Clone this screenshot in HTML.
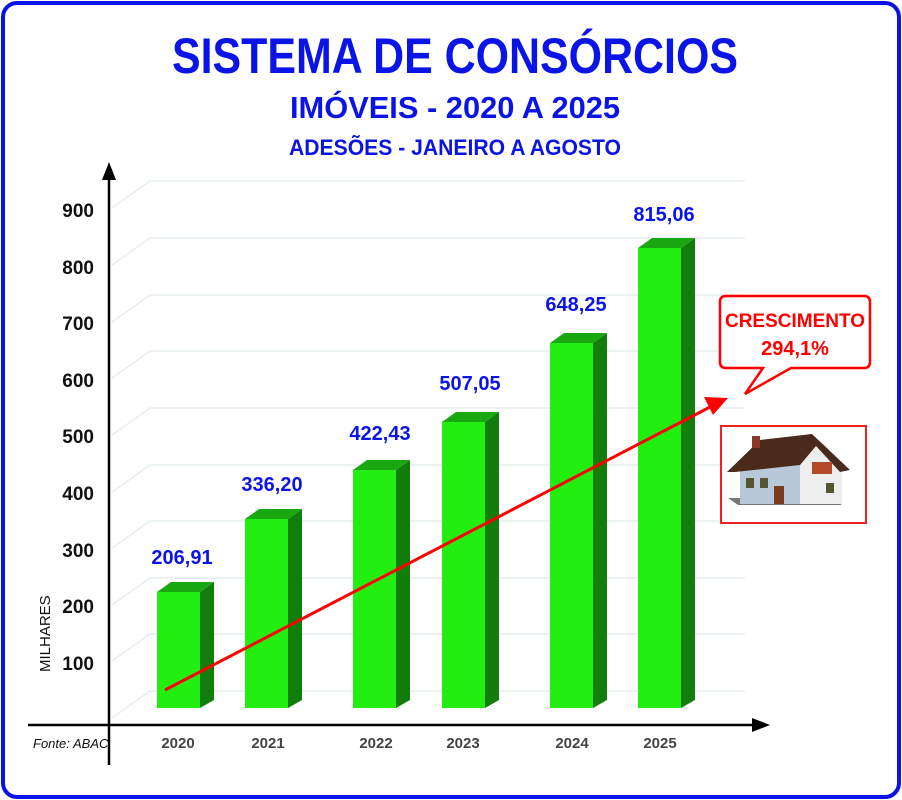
<!DOCTYPE html><html><head><style>body{margin:0;background:#fff}svg{display:block}text{font-family:"Liberation Sans",sans-serif;font-weight:bold}</style></head><body>
<svg width="902" height="800" viewBox="0 0 902 800" xmlns="http://www.w3.org/2000/svg">
<rect x="3" y="3" width="896" height="794" rx="14" fill="#fff" stroke="#0a14e6" stroke-width="4"/>
<text x="455" y="73" text-anchor="middle" font-size="50" fill="#0a14e6" textLength="566" lengthAdjust="spacingAndGlyphs">SISTEMA DE CONSÓRCIOS</text>
<text x="455" y="118" text-anchor="middle" font-size="31" fill="#0a14e6" textLength="330" lengthAdjust="spacingAndGlyphs">IMÓVEIS - 2020 A 2025</text>
<text x="455" y="155" text-anchor="middle" font-size="22" fill="#0a14e6" textLength="332" lengthAdjust="spacingAndGlyphs">ADESÕES - JANEIRO A AGOSTO</text>
<g stroke="#e6eeee" stroke-width="1.5" fill="none">
<path d="M112 208L150 181H745M112 265L150 238H745M112 322L150 295H745M112 378L150 351H745M112 435L150 408H745M112 492L150 465H745M112 548L150 521H745M112 605L150 578H745M112 661L150 634H745M112 718L150 691H745"/>
</g>
<g font-size="19" fill="#111" text-anchor="end">
<text x="94" y="217">900</text><text x="94" y="274">800</text><text x="94" y="330">700</text><text x="94" y="387">600</text><text x="94" y="443">500</text><text x="94" y="500">400</text><text x="94" y="557">300</text><text x="94" y="613">200</text><text x="94" y="670">100</text>
</g>
<text transform="translate(50,672) rotate(-90)" font-size="15" font-weight="normal" fill="#111" style="font-weight:normal">MILHARES</text>
<g id="bars"></g>
<g>
<!-- bars: x, top -->
<g fill="#22ee11"><rect x="157" y="592" width="43" height="116"/><rect x="245" y="519" width="43" height="189"/><rect x="353" y="470" width="43" height="238"/><rect x="442" y="422" width="43" height="286"/><rect x="550" y="343" width="43" height="365"/><rect x="638" y="248" width="43" height="460"/></g>
<g fill="#117d0a"><path d="M200 592L214 582V700L200 708Z"/><path d="M288 519L302 509V700L288 708Z"/><path d="M396 470L410 460V700L396 708Z"/><path d="M485 422L499 412V700L485 708Z"/><path d="M593 343L607 333V700L593 708Z"/><path d="M681 248L695 238V700L681 708Z"/></g>
<g fill="#1aa812"><path d="M157 592L171 582H214L200 592Z"/><path d="M245 519L259 509H302L288 519Z"/><path d="M353 470L367 460H410L396 470Z"/><path d="M442 422L456 412H499L485 422Z"/><path d="M550 343L564 333H607L593 343Z"/><path d="M638 248L652 238H695L681 248Z"/></g>
</g>
<g font-size="20" fill="#0a14e6" text-anchor="middle">
<text x="182" y="564">206,91</text><text x="272" y="491">336,20</text><text x="380" y="440">422,43</text><text x="470" y="390">507,05</text><text x="576" y="311">648,25</text><text x="664" y="221">815,06</text>
</g>
<g font-size="15" fill="#444" text-anchor="middle">
<text x="178" y="748">2020</text><text x="268" y="748">2021</text><text x="376" y="748">2022</text><text x="463" y="748">2023</text><text x="572" y="748">2024</text><text x="660" y="748">2025</text>
</g>
<text x="33" y="748" font-size="13" fill="#111" style="font-weight:normal;font-style:italic">Fonte: ABAC</text>
<line x1="109" y1="178" x2="109" y2="765" stroke="#000" stroke-width="2.5"/>
<path d="M109 162L102 180H116Z" fill="#000"/>
<line x1="28" y1="725" x2="756" y2="725" stroke="#000" stroke-width="2.5"/>
<path d="M770 725L752 718V732Z" fill="#000"/>
<line x1="165" y1="690" x2="712" y2="406" stroke="#f00" stroke-width="3"/>
<path d="M728 398L704 397L713 415Z" fill="#f00"/>
<path d="M726 296H864Q870 296 870 302V362Q870 368 864 368H791L745 394L763 368H726Q720 368 720 362V302Q720 296 726 296Z" fill="#fff" stroke="#f00" stroke-width="2.5"/>
<text x="795" y="327" text-anchor="middle" font-size="19" fill="#f00" textLength="140" lengthAdjust="spacingAndGlyphs">CRESCIMENTO</text>
<text x="795" y="355" text-anchor="middle" font-size="20" fill="#f00">294,1%</text>
<rect x="721" y="426" width="145" height="97" fill="#fff" stroke="#e22" stroke-width="2"/>
<path d="M728 498L738 505H842L830 498Z" fill="#777"/>
<rect x="740" y="462" width="60" height="42" fill="#b8c8d8"/>
<path d="M800 462L822 440L842 466V504H800Z" fill="#eee"/>
<path d="M727 472L760 440L812 434L850 470L840 472L816 446L800 465L735 472Z" fill="#4a2a1a"/>
<rect x="752" y="436" width="8" height="12" fill="#8b3a2a"/>
<rect x="774" y="486" width="10" height="18" fill="#7a3a1e"/>
<rect x="746" y="478" width="8" height="10" fill="#553"/><rect x="760" y="478" width="8" height="10" fill="#553"/><rect x="826" y="483" width="8" height="10" fill="#553"/>
<rect x="812" y="462" width="20" height="12" fill="#b34a2a"/>
</svg></body></html>
